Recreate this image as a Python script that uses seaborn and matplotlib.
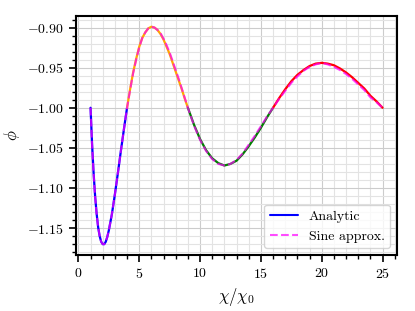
"""
Potential phi against chi/chi_0: analytic curve (coloured by half-period)
with the sine approximation dashed on top.
"""

import matplotlib.pyplot as plt
import pandas as pd
import seaborn as sns
from matplotlib.lines import Line2D
from matplotlib.ticker import MultipleLocator

chi = [1, 1.125, 1.25, 1.375, 1.5, 1.625, 1.75, 1.875, 2, 2.125, 2.25, 2.375,
       2.5, 2.75, 3, 3.25, 3.5, 3.75, 4,
       4.25, 4.5, 4.75, 5, 5.25, 5.5, 5.75, 6, 6.25, 6.5, 6.75, 7, 7.25, 7.5,
       7.75, 8, 8.25, 8.5, 8.75, 9,
       9.5, 10, 10.5, 11, 11.5, 12, 12.5, 13, 13.5, 14, 14.5, 15, 15.5, 16,
       16.5, 17, 17.5, 18, 18.5, 19, 19.5, 20, 20.5, 21, 21.5, 22, 22.5, 23,
       23.5, 24, 24.5, 25]

phi_analytic = [-1.000, -1.045, -1.081, -1.110, -1.132, -1.149, -1.160, -1.167,
                -1.170, -1.170, -1.167, -1.161, -1.153, -1.133, -1.108, -1.081,
                -1.053, -1.026, -1.000,
                -0.977, -0.956, -0.939, -0.924, -0.913, -0.906, -0.901, -0.899,
                -0.900, -0.903, -0.908, -0.915, -0.924, -0.933, -0.944, -0.955,
                -0.966, -0.977, -0.989, -1.000,
                -1.021, -1.039, -1.053, -1.063, -1.069, -1.072, -1.070, -1.066,
                -1.058, -1.048, -1.037, -1.025, -1.012, -1.000,
                -0.988, -0.977, -0.967, -0.959, -0.953, -0.948, -0.945, -0.944,
                -0.945, -0.947, -0.951, -0.956, -0.962, -0.969, -0.976, -0.985,
                -0.992, -1.000]

phi_sine = [-1.000, -1.046, -1.082, -1.111, -1.133, -1.149, -1.160, -1.167,
            -1.170, -1.170, -1.167, -1.161, -1.153, -1.133, -1.108, -1.081,
            -1.053, -1.026, -1.000,
            -0.978, -0.957, -0.940, -0.925, -0.913, -0.906, -0.901, -0.899,
            -0.900, -0.903, -0.907, -0.914, -0.922, -0.931, -0.942, -0.953,
            -0.964, -0.976, -0.988, -1.000,
            -1.022, -1.040, -1.054, -1.064, -1.070, -1.072, -1.070, -1.065,
            -1.057, -1.046, -1.035, -1.023, -1.011, -1.000,
            -0.989, -0.979, -0.969, -0.961, -0.954, -0.949, -0.946, -0.944,
            -0.946, -0.949, -0.953, -0.958, -0.964, -0.971, -0.978, -0.987,
            -0.993, -1.000]

# analytic curve changes colour where it crosses phi = -1
seg_edges = [1, 4, 9, 16, 25]
seg_colors = ["blue", "orange", "green", "red"]

sns.set_style("ticks")
plt.rcParams.update({
    "font.family": "serif",
    "font.serif": ["cmr10", "DejaVu Serif"],
    "mathtext.fontset": "cm",
    "axes.formatter.use_mathtext": True,
    "font.size": 10,
    "axes.linewidth": 1.5,
    "axes.edgecolor": "black",
    "xtick.color": "black",
    "ytick.color": "black",
    "text.color": "black",
    "axes.labelcolor": "black",
})

df = pd.DataFrame({"chi": chi, "analytic": phi_analytic, "sine": phi_sine})

fig, ax = plt.subplots(figsize=(4.15, 3.11), dpi=100)
fig.subplots_adjust(left=0.183, right=0.957, bottom=0.18, top=0.949)

for lo, hi, col in zip(seg_edges[:-1], seg_edges[1:], seg_colors):
    part = df[(df["chi"] >= lo) & (df["chi"] <= hi)]
    sns.lineplot(data=part, x="chi", y="analytic", color=col, lw=1.6, ax=ax)

sns.lineplot(data=df, x="chi", y="sine", color="magenta", lw=1.5,
             ls="--", alpha=0.7, ax=ax)

ax.xaxis.set_major_locator(MultipleLocator(5))
ax.xaxis.set_minor_locator(MultipleLocator(1))
ax.yaxis.set_major_locator(MultipleLocator(0.05))
ax.yaxis.set_minor_locator(MultipleLocator(0.01))
ax.grid(which="major", color="#cccccc", lw=0.8)
ax.grid(which="minor", color="#e3e3e3", lw=0.8)
ax.set_axisbelow(True)
ax.tick_params(which="major", length=5, width=1.2, labelsize=10)
ax.tick_params(which="minor", length=3, width=1)

ax.set_xlabel(r"$\chi/\chi_0$", fontsize=12)
ax.set_ylabel(r"$\phi$", fontsize=12)

handles = [
    Line2D([], [], color="blue", lw=1.5),
    Line2D([], [], color="magenta", lw=1.5, ls="--", alpha=0.7),
]
ax.legend(handles, ["Analytic", "Sine approx."], loc="lower right")

plt.savefig("out.png", dpi=100)
plt.close()
